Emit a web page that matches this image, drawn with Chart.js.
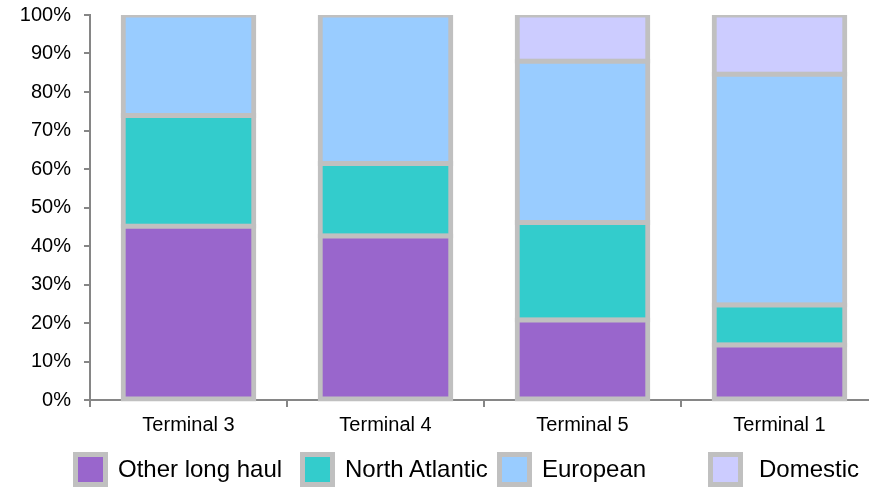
<!DOCTYPE html>
<html>
<head>
<meta charset="utf-8">
<script src="https://cdn.jsdelivr.net/npm/chart.js@4.4.1/dist/chart.umd.min.js"></script>
<style>
  html, body { margin: 0; padding: 0; background: #fff; overflow: hidden; width: 869px; height: 487px; }
  #wrap { position: absolute; left: 0; top: 0; width: 880px; height: 487px; }
  #legend { position: absolute; left: 0; top: 0; width: 869px; height: 487px; pointer-events: none;
            font-family: "Liberation Sans", Arial, sans-serif; color: #000; }
  .sw { position: absolute; top: 452px; width: 25px; height: 25px; border: 5px solid #c0c0c0; }
  .lt { position: absolute; top: 455px; font-size: 24px; line-height: 28px; white-space: nowrap; }
</style>
</head>
<body>
<div id="wrap"><canvas id="c" width="880" height="487"></canvas></div>
<div id="legend"></div>
<script>
// Share of traffic by terminal (percent of each terminal's total)
const terminals     = ['Terminal 3', 'Terminal 4', 'Terminal 5', 'Terminal 1'];
const otherLongHaul = [45.1, 42.6, 20.8, 14.3];
const northAtlantic = [28.8, 18.8, 25.3, 10.4];
const european      = [26.1, 38.6, 41.9, 59.9];
const domestic      = [null, null, 12.0, 15.4];
const yTickValues   = [0, 10, 20, 30, 40, 50, 60, 70, 80, 90, 100];

const seriesNames  = ['Other long haul', 'North Atlantic', 'European', 'Domestic'];
const seriesColors = ['#9966cc', '#33cccc', '#99ccff', '#ccccff'];
const seriesData   = [otherLongHaul, northAtlantic, european, domestic];

const FONT = '"Liberation Sans", Arial, sans-serif';
const AXIS = '#868686';

const datasets = seriesNames.map((name, i) => ({
  label: name,
  data: seriesData[i],
  backgroundColor: seriesColors[i],
  borderColor: '#c0c0c0',
  borderWidth: 5,
  borderSkipped: false,
  inflateAmount: 2.5,
  barPercentage: 0.663,
  categoryPercentage: 1,
  clip: { left: false, right: false, top: 0, bottom: false }
}));

new Chart(document.getElementById('c'), {
  type: 'bar',
  data: { labels: terminals, datasets },
  options: {
    responsive: false,
    animation: false,
    events: [],
    layout: { padding: { top: 15, left: 0, right: 2, bottom: 0 } },
    plugins: { legend: { display: false }, tooltip: { enabled: false } },
    scales: {
      x: {
        stacked: true,
        z: 1,
        afterFit: s => { s.height = 87; },
        grid: { display: true, drawOnChartArea: false, drawTicks: true, tickLength: 7, color: AXIS, lineWidth: 2 },
        border: { display: true, color: AXIS, width: 2 },
        ticks: { color: '#000', font: { family: FONT, size: 20 }, padding: 6, maxRotation: 0 }
      },
      y: {
        stacked: true,
        min: 0, max: 100,
        z: 1,
        afterFit: s => { s.width = 90; s.paddingTop = 0; s.paddingBottom = 0; },
        afterBuildTicks: s => { s.ticks = yTickValues.map(v => ({ value: v })); },
        grid: { display: true, drawOnChartArea: false, drawTicks: true, tickLength: 6, color: AXIS, lineWidth: 2 },
        border: { display: true, color: AXIS, width: 2 },
        ticks: { color: '#000', font: { family: FONT, size: 20 }, padding: 13, callback: v => v + '%' }
      }
    }
  }
});

// Legend row with its own spacing
const legendBoxX  = [73, 300, 497, 708];
const legendTextX = [118, 345, 542, 759];
const legend = document.getElementById('legend');
seriesNames.forEach((name, i) => {
  const sw = document.createElement('div');
  sw.className = 'sw';
  sw.style.left = legendBoxX[i] + 'px';
  sw.style.background = seriesColors[i];
  legend.appendChild(sw);
  const t = document.createElement('div');
  t.className = 'lt';
  t.style.left = legendTextX[i] + 'px';
  t.textContent = name;
  legend.appendChild(t);
});
</script>
</body>
</html>
